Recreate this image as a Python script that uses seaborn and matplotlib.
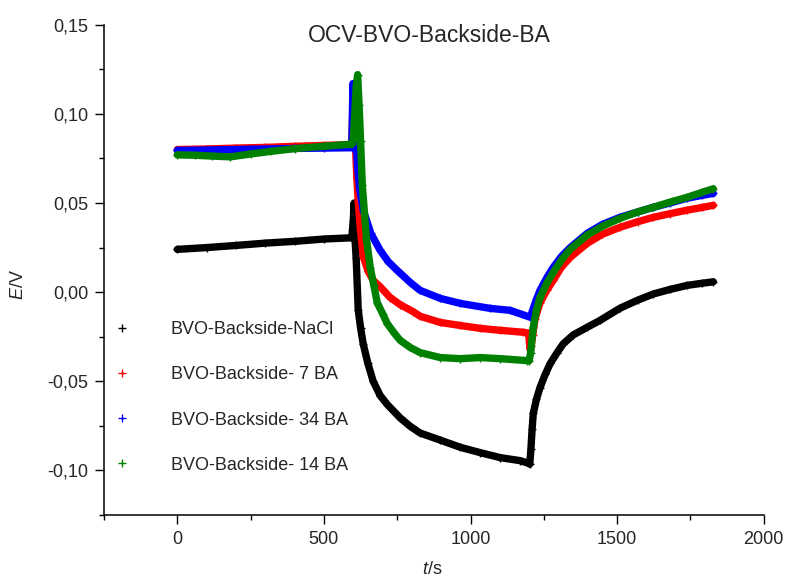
import matplotlib
matplotlib.use("Agg")
import matplotlib.pyplot as plt
import seaborn as sns
from matplotlib.lines import Line2D
from matplotlib.ticker import MultipleLocator, FixedLocator, FixedFormatter

# -----------------------------
# Data (t in s, E in V)
# -----------------------------
t_nacl = [0, 100, 200, 300, 400, 500, 595, 600, 603, 606, 610, 617, 625, 634, 650, 668,
          692, 716, 760, 794, 828, 897, 965, 1033, 1101, 1169, 1198,
          1202, 1206, 1210, 1214, 1225, 1237, 1255, 1272, 1295, 1316, 1350, 1398, 1442,
          1510, 1570, 1624, 1680, 1739, 1790, 1828]
e_nacl = [0.0240, 0.0250, 0.0262, 0.0275, 0.0285, 0.0298, 0.0305, 0.040, 0.050, 0.030, 0.019,
          -0.010, -0.020, -0.029, -0.040, -0.050,
          -0.058, -0.0630, -0.0705, -0.0752, -0.0790, -0.0830, -0.0870, -0.0900, -0.0928, -0.0945, -0.0960,
          -0.0965, -0.0880, -0.0770, -0.0680, -0.0600, -0.0535, -0.0460, -0.0400, -0.0340, -0.0290,
          -0.0240, -0.0197, -0.0158,
          -0.0090, -0.0045, -0.0010, 0.0015, 0.0038, 0.0050, 0.0058]

t_7ba = [0, 100, 200, 300, 400, 500, 595, 600, 603, 607, 612, 618, 624, 634, 650, 668,
         692, 726, 760, 805, 828, 897, 965, 1033, 1101, 1180, 1198,
         1203, 1207, 1212, 1220, 1237, 1260, 1282, 1310, 1340, 1398, 1450,
         1510, 1570, 1624, 1680, 1739, 1790, 1828]
e_7ba = [0.0800, 0.0803, 0.0808, 0.0812, 0.0818, 0.0823, 0.0828, 0.110, 0.100, 0.085, 0.065,
         0.048, 0.036, 0.020, 0.012, 0.0066,
         0.003, -0.003, -0.007, -0.011, -0.0135, -0.0170, -0.0187, -0.0203, -0.0214, -0.0225, -0.0230,
         -0.0320, -0.0300, -0.0240, -0.0150, -0.0060, 0.0010, 0.0066, 0.0140, 0.0195, 0.0274, 0.0325,
         0.0364, 0.0395, 0.0420, 0.0440, 0.0460, 0.0475, 0.0487]

t_34ba = [0, 100, 200, 300, 400, 500, 595, 599, 602, 606, 610, 615, 622, 634, 660,
          692, 720, 750, 794, 828, 897, 965, 1067, 1135, 1204,
          1212, 1225, 1237, 1260, 1282, 1310, 1340, 1398, 1450,
          1510, 1570, 1624, 1680, 1739, 1790, 1828]
e_34ba = [0.0795, 0.0797, 0.0800, 0.0803, 0.0806, 0.0808, 0.0810, 0.117, 0.110, 0.100, 0.085,
          0.070, 0.058, 0.046, 0.033,
          0.0234, 0.017, 0.0122, 0.0055, 0.0010, -0.0035, -0.0063, -0.0091, -0.0102, -0.0141,
          -0.0100, -0.0040, 0.0010, 0.0080, 0.0139, 0.0200, 0.0250, 0.0330, 0.0380,
          0.0420, 0.0450, 0.0476, 0.0500, 0.0527, 0.0543, 0.0554]

t_14ba = [0, 60, 120, 181, 250, 320, 400, 500, 595, 600, 605, 610, 615, 620, 625, 631, 645, 658,
          670, 682, 700, 716, 740, 760, 794, 828, 897, 965, 1033, 1101, 1193, 1200,
          1205, 1214, 1225, 1237, 1260, 1282, 1310, 1340, 1398, 1450,
          1510, 1570, 1624, 1680, 1739, 1790, 1828]
e_14ba = [0.0770, 0.0768, 0.0763, 0.0759, 0.0775, 0.0790, 0.0805, 0.0818, 0.0830, 0.085, 0.100,
          0.115, 0.122, 0.105, 0.085, 0.060, 0.030, 0.0138,
          0.004, -0.006, -0.012, -0.0176, -0.023, -0.027, -0.031, -0.0339, -0.0367, -0.0373, -0.0367,
          -0.0373, -0.0384, -0.0385,
          -0.0340, -0.0197, -0.0100, -0.0030, 0.0050, 0.0110, 0.0180, 0.0240, 0.0320, 0.0370,
          0.0414, 0.0450, 0.0476, 0.0505, 0.0532, 0.0560, 0.0580]

labels = ["BVO-Backside-NaCl", "BVO-Backside- 7 BA", "BVO-Backside- 34 BA", "BVO-Backside- 14 BA"]
colors = ["#000000", "#FF0000", "#0000FF", "#008000"]
series = [(t_nacl, e_nacl), (t_7ba, e_7ba), (t_34ba, e_34ba), (t_14ba, e_14ba)]

ytick_vals = [-0.10, -0.05, 0.00, 0.05, 0.10, 0.15]
ytick_text = ["-0,10", "-0,05", "0,00", "0,05", "0,10", "0,15"]

# -----------------------------
# Style
# -----------------------------
sns.set_style("ticks")
plt.rcParams['font.family'] = ['Liberation Sans', 'DejaVu Sans']
plt.rcParams['mathtext.fontset'] = 'custom'
plt.rcParams['mathtext.rm'] = 'Liberation Sans'
plt.rcParams['mathtext.it'] = 'Liberation Sans:italic'

fig = plt.figure(figsize=(7.85, 5.83), dpi=100)
ax = fig.add_axes([0.1325, 0.1166, 0.8404, 0.841])

for (t, e), c in zip(series, colors):
    sns.lineplot(x=t, y=e, color=c, lw=5.3, marker='+', markersize=6,
                 markeredgecolor=c, markeredgewidth=1, ax=ax)

ax.set_xlim(-250, 2000)
ax.set_ylim(-0.125, 0.15)

ax.xaxis.set_major_locator(FixedLocator([0, 500, 1000, 1500, 2000]))
ax.xaxis.set_minor_locator(MultipleLocator(250))
ax.yaxis.set_major_locator(FixedLocator(ytick_vals))
ax.yaxis.set_major_formatter(FixedFormatter(ytick_text))
ax.yaxis.set_minor_locator(MultipleLocator(0.025))

ax.tick_params(which='major', direction='out', length=6.5, width=1, labelsize=13, pad=5, color='black')
ax.tick_params(which='minor', direction='out', length=3.4, width=1, color='black')

sns.despine(ax=ax)
for s in ['left', 'bottom']:
    ax.spines[s].set_linewidth(1.1)
    ax.spines[s].set_color('black')

ax.set_xlabel("$t$/s", fontsize=13)
ax.set_ylabel("$E$/V", fontsize=13)
ax.xaxis.set_label_coords(0.497, -0.094)
ax.yaxis.set_label_coords(-0.117, 0.47)

fig.text(0.5465, 1 - 35 / 583, "OCV-BVO-Backside-BA", ha='center', va='center', fontsize=16.5)

handles = [Line2D([], [], ls='none', marker='+', markersize=6, color=c, markeredgewidth=1) for c in colors]
ax.legend(handles, labels, loc='upper left', bbox_to_anchor=(0.144, 0.449),
          bbox_transform=fig.transFigure, frameon=False, fontsize=13,
          handlelength=1.0, handletextpad=2.2, labelspacing=1.56,
          borderpad=0, borderaxespad=0)

fig.savefig("out.png", dpi=100)
